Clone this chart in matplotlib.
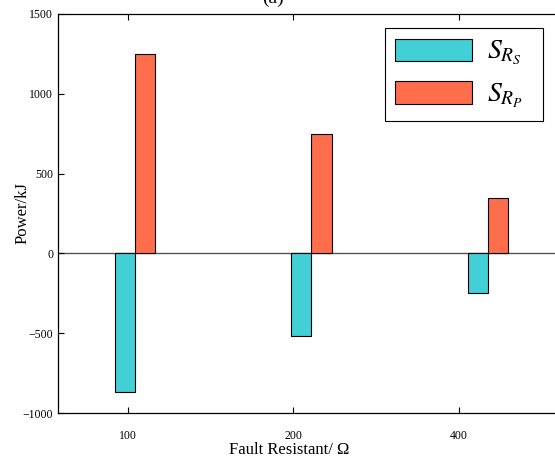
import numpy as np
import matplotlib.pyplot as plt

plt.rcParams['font.family'] = ['Liberation Serif', 'DejaVu Serif']
plt.rcParams['mathtext.fontset'] = 'stix'

# data
categories = ['100', '200', '400']
s_rs = [-870, -520, -245]
s_rp = [1250, 745, 350]

group_pos = np.array([1, 2, 3])
tick_pos = [0.960, 1.895, 2.836]

fig = plt.figure(figsize=(5.55, 4.61), dpi=100)
ax = fig.add_axes([58/555, 1 - 413/461, 1 - 58/555, 399/461])

w = 0.114
ax.bar(group_pos - w/2, s_rs, w, color='#43CFD6', edgecolor='black', linewidth=0.8, label=r'$S_{R_S}$' + '  ')
ax.bar(group_pos + w/2, s_rp, w, color='#FF6E4C', edgecolor='black', linewidth=0.8, label=r'$S_{R_P}$' + '  ')
ax.axhline(0, color='#555555', linewidth=1.0, zorder=0)

ax.set_xlim(0.5637, 3.38)
ax.set_ylim(-1000, 1500)
ax.set_yticks([-1000, -500, 0, 500, 1000, 1500])
ax.set_xticks(tick_pos)
ax.set_xticklabels(categories)
ax.tick_params(direction='in', labelsize=8.5, top=True, length=4, width=0.8)
ax.tick_params(axis='x', pad=12)
ax.spines['right'].set_visible(False)
for s in ['left', 'top', 'bottom']:
    ax.spines[s].set_linewidth(0.9)

ax.set_xlabel('Fault Resistant/ Ω', fontsize=12, va='center')
ax.xaxis.set_label_coords(0.465, -0.093)
ax.set_ylabel('Power/kJ', fontsize=12, va='center', ha='center')
ax.yaxis.set_label_coords(-0.072, 0.5)

leg = ax.legend(loc='upper right', bbox_to_anchor=(0.976, 0.965), borderaxespad=0,
                fontsize=20, handlelength=2.77, handleheight=0.86, fancybox=False,
                edgecolor='black', framealpha=1, borderpad=0.38, labelspacing=0.5,
                handletextpad=0.55)
leg.get_frame().set_linewidth(0.8)

fig.text(0.492, 1 - 3/461, '(a)', ha='center', va='baseline', fontsize=14)

fig.savefig('out.png', dpi=100)
